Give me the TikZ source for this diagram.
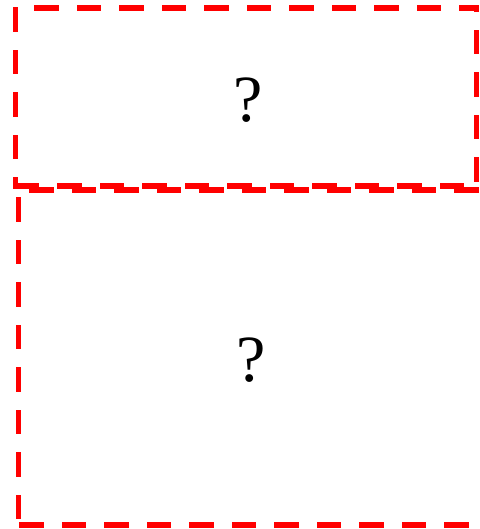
\documentclass[tikz,border=0pt]{standalone}
\usepackage{fontspec}
\setmainfont{Liberation Serif}
\begin{document}
\begin{tikzpicture}[x=1pt,y=-1pt,
  edge/.style={draw=red, line width=5.5pt, line cap=rect, dash pattern=on 19pt off 23.5pt},
  qmark/.style={inner sep=0pt, font=\fontsize{66}{72}\selectfont}]
\useasboundingbox (0,0) rectangle (479,529);
\clip (0,0) rectangle (479,529);
% upper box
\draw[edge, dash phase=21.25pt] (15.5,8) -- (476.5,8);
\draw[edge, dash phase=40.5pt] (15.5,8) -- (15.5,186);
\draw[edge, dash phase=40.5pt] (15.5,186) -- (476.5,186);
\draw[edge, dash phase=17.75pt] (476.5,8) -- (476.5,186);
% lower box
\draw[edge, dash phase=29.25pt] (18.5,190) -- (485,190);
\draw[edge, dash phase=32.75pt] (18.5,190) -- (18.5,525);
\draw[edge, dash phase=39.25pt] (18.5,525) -- (485,525);
\draw[edge] (485,190) -- (485,525);
% labels
\node[qmark] (q1) at (248.5,100) {?};
\node[qmark] (q2) at (251.5,360) {?};
\end{tikzpicture}
\end{document}
